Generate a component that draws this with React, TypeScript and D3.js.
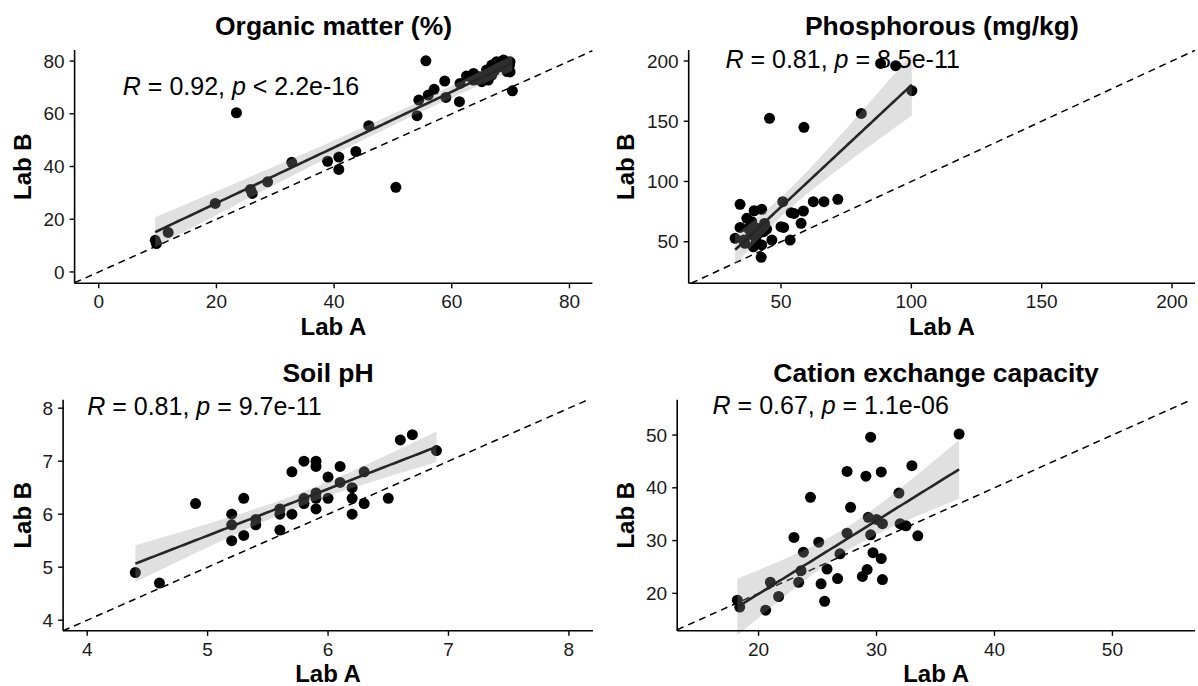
import React from "react";
import * as d3 from "d3";

// ---------- data ----------
const omLabA = [9.6, 9.8, 11.8, 19.8, 23.4, 25.8, 26.1, 28.7, 32.8, 38.9, 40.8, 40.8, 43.7, 45.9, 50.5, 54.1, 54.4, 55.6, 56.0, 57.0, 58.8, 59.0, 61.3, 61.4, 62.5, 63.5, 63.7, 63.7, 64.8, 65.1, 65.9, 66.2, 66.8, 67.6, 68.5, 68.8, 69.3, 69.9, 69.9, 70.3, 67.1, 68.4, 69.4, 66.8, 64.3, 67.3, 69.8];
const omLabB = [12.0, 10.8, 15.0, 26.0, 60.4, 31.3, 29.8, 34.2, 41.6, 42.0, 43.6, 38.9, 45.7, 55.5, 32.1, 59.3, 65.2, 80.1, 67.1, 69.3, 72.4, 66.2, 64.6, 71.5, 74.3, 73.6, 75.3, 72.8, 74.1, 72.2, 76.6, 72.8, 78.5, 79.7, 77.8, 80.4, 77.2, 79.7, 75.9, 68.7, 78.5, 79.7, 76.0, 74.7, 73.0, 76.5, 78.3];

const pLabA = [88.2, 94.0, 100.2, 80.8, 45.6, 58.8, 34.3, 50.7, 62.4, 66.5, 71.8, 39.7, 42.6, 53.9, 58.6, 55.0, 36.9, 38.8, 57.7, 50.0, 51.0, 34.3, 37.5, 40.7, 43.3, 41.3, 43.7, 32.4, 36.2, 39.4, 42.6, 42.4, 46.5, 53.5, 35.7, 38.5, 40.5, 44.5];
const pLabB = [198.0, 196.1, 175.3, 156.5, 152.4, 144.9, 81.0, 83.2, 83.2, 83.2, 85.2, 75.7, 76.9, 74.1, 75.5, 73.5, 69.4, 66.6, 65.3, 62.5, 61.9, 61.9, 61.1, 61.1, 58.3, 56.9, 65.2, 52.8, 48.7, 45.8, 47.3, 37.1, 51.4, 51.4, 51.4, 56.0, 50.5, 60.5];

const phLabA = [4.4, 4.6, 4.9, 5.2, 5.2, 5.2, 5.3, 5.3, 5.4, 5.4, 5.6, 5.6, 5.6, 5.7, 5.7, 5.8, 5.8, 5.8, 5.9, 5.9, 5.9, 5.9, 5.9, 6.0, 6.0, 6.1, 6.1, 6.2, 6.2, 6.2, 6.3, 6.3, 6.5, 6.6, 6.7, 6.9];
const phLabB = [4.9, 4.7, 6.2, 6.0, 5.8, 5.5, 6.3, 5.6, 5.8, 5.9, 6.1, 6.0, 5.7, 6.0, 6.8, 7.0, 6.3, 6.2, 7.0, 6.9, 6.4, 6.3, 6.1, 6.7, 6.3, 6.9, 6.6, 6.5, 6.3, 6.0, 6.2, 6.8, 6.3, 7.4, 7.5, 7.2];

const cecLabA = [29.5, 37.0, 27.5, 29.1, 30.4, 33.0, 24.4, 31.9, 27.8, 29.3, 30.0, 30.5, 32.0, 32.5, 33.5, 27.5, 29.5, 23.0, 25.1, 23.8, 26.9, 29.7, 30.4, 25.8, 29.2, 28.8, 30.5, 26.7, 25.3, 23.4, 21.0, 21.7, 25.6, 20.6, 18.2, 18.4, 23.6];
const cecLabB = [49.6, 50.2, 43.1, 42.2, 43.0, 44.2, 38.2, 39.0, 36.3, 34.4, 34.0, 33.2, 33.2, 32.8, 30.9, 31.4, 31.1, 30.6, 29.7, 27.8, 27.5, 27.7, 26.6, 24.6, 24.5, 23.2, 22.6, 22.8, 21.8, 22.1, 22.1, 19.4, 18.5, 16.8, 18.7, 17.4, 24.3];

const panelTitles = ["Organic matter (%)", "Phosphorous (mg/kg)", "Soil pH", "Cation exchange capacity"];
const corrR = ["0.92", "0.81", "0.81", "0.67"];
const corrPSign = ["<", "=", "=", "="];
const corrP = ["2.2e-16", "8.5e-11", "9.7e-11", "1.1e-06"];

const omTicks = [0, 20, 40, 60, 80];
const pTicks = [50, 100, 150, 200];
const phTicks = [4, 5, 6, 7, 8];
const cecTicks = [20, 30, 40, 50];

const omDomainX = [-4.1, 83.9];
const omDomainY = [-4.3, 84.2];
const pDomainX = [14.6, 208.8];
const pDomainY = [15.5, 209.1];
const phDomainX = [3.8, 8.2];
const phDomainY = [3.8, 8.16];
const cecDomainX = [13.1, 57];
const cecDomainY = [12.9, 56.7];

// label anchor (data units): x of left edge, y of baseline
const labelX = [4.1, 28.7, 4.0, 16.1];
const labelY = [67.2, 193.9, 7.88, 53.9];

const xAxisTitle = "Lab A";
const yAxisTitle = "Lab B";

// ---------- layout ----------
const FONT = "'Liberation Sans', Arial, Helvetica, sans-serif";
const layouts = [
  { left: 74.6, right: 592.4, top: 50, bottom: 283.3, titleY: 35.3, yTitleX: 31, xTitleY: 335 },
  { left: 688.7, right: 1195, top: 50, bottom: 283.3, titleY: 35.3, yTitleX: 634, xTitleY: 335 },
  { left: 63.1, right: 593, top: 399.7, bottom: 630.8, titleY: 382, yTitleX: 31, xTitleY: 682 },
  { left: 677.2, right: 1195, top: 399.7, bottom: 630.8, titleY: 382, yTitleX: 634, xTitleY: 682 },
];

const panelData = [
  { xs: omLabA, ys: omLabB, ticks: omTicks, dx: omDomainX, dy: omDomainY },
  { xs: pLabA, ys: pLabB, ticks: pTicks, dx: pDomainX, dy: pDomainY },
  { xs: phLabA, ys: phLabB, ticks: phTicks, dx: phDomainX, dy: phDomainY },
  { xs: cecLabA, ys: cecLabB, ticks: cecTicks, dx: cecDomainX, dy: cecDomainY },
];

function fitBand(xs: number[], ys: number[]) {
  const n = xs.length;
  const mx = d3.mean(xs) as number;
  const my = d3.mean(ys) as number;
  let sxx = 0, sxy = 0;
  for (let i = 0; i < n; i++) {
    sxx += (xs[i] - mx) ** 2;
    sxy += (xs[i] - mx) * (ys[i] - my);
  }
  const b = sxy / sxx;
  const a = my - b * mx;
  let sse = 0;
  for (let i = 0; i < n; i++) sse += (ys[i] - a - b * xs[i]) ** 2;
  const s = Math.sqrt(sse / (n - 2));
  const t = 2.02;
  const [x0, x1] = d3.extent(xs) as [number, number];
  const pts = d3.range(81).map((i) => {
    const xv = x0 + ((x1 - x0) * i) / 80;
    const yh = a + b * xv;
    const se = s * Math.sqrt(1 / n + (xv - mx) ** 2 / sxx);
    return { x: xv, y: yh, lo: yh - t * se, hi: yh + t * se };
  });
  return pts;
}

function Panel({ idx }: { idx: number }) {
  const L = layouts[idx];
  const D = panelData[idx];
  const x = d3.scaleLinear().domain(D.dx).range([L.left, L.right]);
  const y = d3.scaleLinear().domain(D.dy).range([L.bottom, L.top]);
  const band = fitBand(D.xs, D.ys);
  const area = d3
    .area<any>()
    .x((d) => x(d.x))
    .y0((d) => y(d.lo))
    .y1((d) => y(d.hi));
  const line = d3
    .line<any>()
    .x((d) => x(d.x))
    .y((d) => y(d.y));
  const v0 = Math.max(D.dx[0], D.dy[0]);
  const v1 = Math.min(D.dx[1], D.dy[1]);
  const cx = (L.left + L.right) / 2;
  const cy = (L.top + L.bottom) / 2;
  return (
    <g>
      <text x={cx} y={L.titleY} textAnchor="middle" fontFamily={FONT} fontWeight="bold" fontSize={26.5} fill="#000">
        {panelTitles[idx]}
      </text>
      {/* identity line */}
      <line
        x1={x(v0)}
        y1={y(v0)}
        x2={x(v1)}
        y2={y(v1)}
        stroke="#000"
        strokeWidth={1.5}
        strokeDasharray="7,5"
      />
      {/* points */}
      {D.xs.map((xv, i) => (
        <circle key={i} cx={x(xv)} cy={y(D.ys[i])} r={5.5} fill="#000" />
      ))}
      {/* confidence band and fitted line */}
      <path d={area(band) as string} fill="#999999" fillOpacity={0.3} stroke="none" />
      <path d={line(band) as string} fill="none" stroke="#262626" strokeWidth={2.6} />
      {/* axes */}
      <line x1={L.left} y1={L.bottom} x2={L.right} y2={L.bottom} stroke="#000" strokeWidth={1.6} />
      <line x1={L.left} y1={L.bottom} x2={L.left} y2={L.top} stroke="#000" strokeWidth={1.6} />
      {D.ticks.map((t) => (
        <g key={"x" + t}>
          <line x1={x(t)} x2={x(t)} y1={L.bottom} y2={L.bottom + 5} stroke="#000" strokeWidth={1.4} />
          <text x={x(t)} y={L.bottom + 24.7} textAnchor="middle" fontFamily={FONT} fontSize={19} fill="#1a1a1a">
            {t}
          </text>
        </g>
      ))}
      {D.ticks.map((t) => (
        <g key={"y" + t}>
          <line x1={L.left - 5} x2={L.left} y1={y(t)} y2={y(t)} stroke="#000" strokeWidth={1.4} />
          <text x={L.left - 10} y={y(t)} dy="0.35em" textAnchor="end" fontFamily={FONT} fontSize={19} fill="#1a1a1a">
            {t}
          </text>
        </g>
      ))}
      <text x={cx} y={L.xTitleY} textAnchor="middle" fontFamily={FONT} fontWeight="bold" fontSize={24} fill="#000">
        {xAxisTitle}
      </text>
      <text
        transform={`translate(${L.yTitleX},${cy}) rotate(-90)`}
        textAnchor="middle"
        fontFamily={FONT}
        fontWeight="bold"
        fontSize={24}
        fill="#000"
      >
        {yAxisTitle}
      </text>
      <text x={x(labelX[idx])} y={y(labelY[idx])} fontFamily={FONT} fontSize={25} fill="#000" xmlSpace="preserve">
        <tspan fontStyle="italic">R</tspan>
        {" = " + corrR[idx] + ", "}
        <tspan fontStyle="italic">p</tspan>
        {" " + corrPSign[idx] + " " + corrP[idx]}
      </text>
    </g>
  );
}

export default function App() {
  return (
    <svg
      width={1198}
      height={686}
      viewBox="0 0 1198 686"
      style={{ position: "absolute", left: 0, top: 0, background: "#fff" }}
    >
      <rect x={0} y={0} width={1198} height={686} fill="#fff" />
      {[0, 1, 2, 3].map((i) => (
        <Panel key={i} idx={i} />
      ))}
    </svg>
  );
}
